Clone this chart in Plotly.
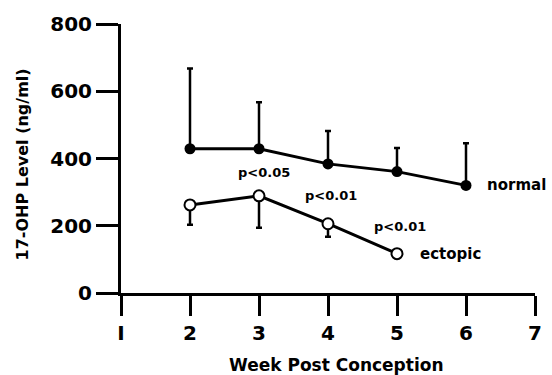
import plotly.graph_objects as go

weeks_normal = [2, 3, 4, 5, 6]
normal_mean = [429, 429, 384, 361, 320]
normal_err_up = [239, 138, 98, 70, 125]

weeks_ectopic = [2, 3, 4, 5]
ectopic_mean = [262, 289, 206, 117]
ectopic_err_down = [59, 95, 39, 0]

x_ticks = [1, 2, 3, 4, 5, 6, 7]
x_tick_text = ["I", "2", "3", "4", "5", "6", "7"]
y_ticks = [0, 200, 400, 600, 800]
y_tick_text = ["0", "200", "400", "600", "800"]

p_labels = ["p<0.05", "p<0.01", "p<0.01"]
p_x = [3.07, 4.05, 5.04]
p_y = [359, 290, 199]

FONT = "DejaVu Sans"

fig = go.Figure()
fig.add_trace(go.Scatter(
    x=weeks_normal, y=normal_mean, mode="lines+markers",
    line=dict(color="black", width=3),
    marker=dict(symbol="circle", size=11, color="black"),
    error_y=dict(type="data", symmetric=False, array=normal_err_up,
                 arrayminus=[0]*len(normal_err_up), color="black", thickness=2.5, width=3),
    showlegend=False, cliponaxis=False))
fig.add_trace(go.Scatter(
    x=weeks_ectopic, y=ectopic_mean, mode="lines+markers",
    line=dict(color="black", width=3),
    marker=dict(symbol="circle", size=11, color="white", line=dict(color="black", width=2)),
    error_y=dict(type="data", symmetric=False, array=[0]*len(ectopic_err_down),
                 arrayminus=ectopic_err_down, color="black", thickness=2.5, width=3),
    showlegend=False, cliponaxis=False))

for t, xx, yy in zip(p_labels, p_x, p_y):
    fig.add_annotation(x=xx, y=yy, text=f"<b>{t}</b>", showarrow=False,
                       font=dict(family=FONT, size=13, color="black"))
fig.add_annotation(x=6.28, y=320, text="<b>normal</b>", showarrow=False, xanchor="left",
                   font=dict(family=FONT, size=15, color="black"))
fig.add_annotation(x=5.3, y=117, text="<b>ectopic</b>", showarrow=False, xanchor="left",
                   font=dict(family=FONT, size=15, color="black"))
fig.add_annotation(xref="paper", yref="paper", x=(340-121)/(541.7-121), y=(293.3-365)/269.3,
                   xanchor="center", yanchor="middle",
                   text="<b>Week Post Conception</b>", showarrow=False,
                   font=dict(family=FONT, size=17, color="black"))
fig.add_annotation(xref="paper", yref="paper", x=(21-121)/(541.7-121), y=(293.3-165)/269.3,
                   xanchor="center", yanchor="middle",
                   text="<b>17-OHP Level (ng/ml)</b>", showarrow=False, textangle=-90,
                   font=dict(family=FONT, size=16, color="black"))

fig.update_layout(
    width=552, height=375,
    margin=dict(l=121, r=10, t=24, b=82),
    plot_bgcolor="white", paper_bgcolor="white",
    font=dict(family=FONT, color="black"),
    xaxis=dict(range=[1, 7], tickvals=x_ticks, ticktext=[f"<b>{t}</b>" for t in x_tick_text],
               ticks="outside", ticklen=20, tickwidth=3,
               tickcolor="black", showline=True, linewidth=3, linecolor="black",
               showgrid=False, zeroline=False, tickfont=dict(size=20, family=FONT)),
    yaxis=dict(range=[0, 800], tickvals=y_ticks, ticktext=[f"<b>{t}</b>" for t in y_tick_text],
               ticks="outside", ticklen=22, tickwidth=3,
               tickcolor="black", showline=True, linewidth=3, linecolor="black",
               showgrid=False, zeroline=False, tickfont=dict(size=20, family=FONT)),
)
fig.write_html("out.html")
